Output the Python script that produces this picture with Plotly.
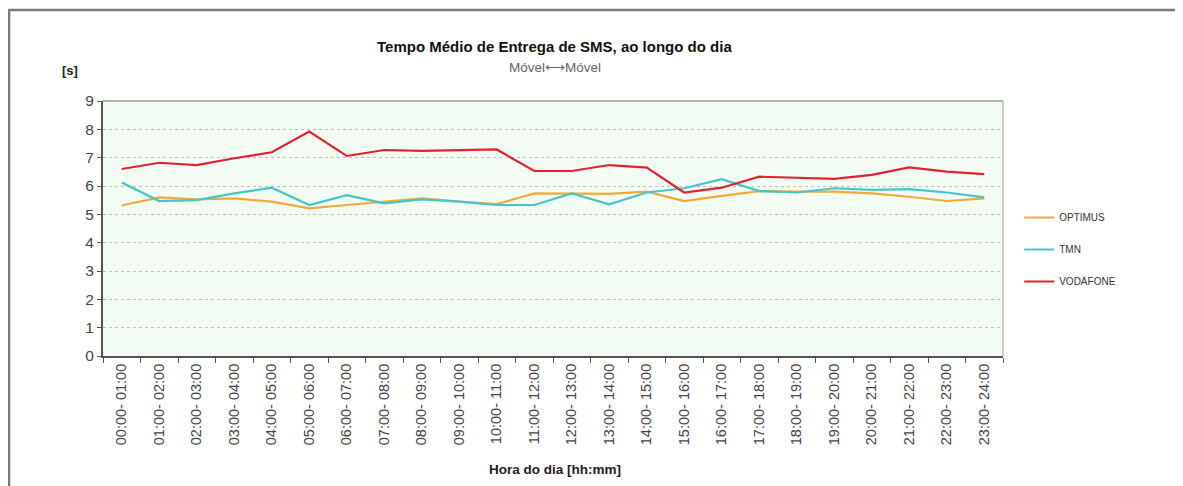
import plotly.graph_objects as go

# hourly intervals
horas = [f"{h:02d}:00- {h + 1:02d}:00" for h in range(24)]

optimus = [5.31, 5.60, 5.53, 5.56, 5.45, 5.21, 5.33, 5.45, 5.56, 5.45, 5.36, 5.74,
           5.72, 5.72, 5.80, 5.47, 5.65, 5.82, 5.80, 5.80, 5.74, 5.62, 5.47, 5.56]
tmn = [6.12, 5.47, 5.50, 5.74, 5.94, 5.33, 5.68, 5.39, 5.53, 5.45, 5.33, 5.33,
       5.74, 5.35, 5.77, 5.92, 6.24, 5.82, 5.77, 5.92, 5.86, 5.89, 5.77, 5.60]
vodafone = [6.60, 6.82, 6.74, 6.98, 7.19, 7.92, 7.06, 7.27, 7.24, 7.27, 7.29, 6.53,
            6.53, 6.74, 6.65, 5.77, 5.94, 6.33, 6.29, 6.25, 6.39, 6.66, 6.51, 6.42]

series = [
    ("OPTIMUS", optimus, "#F2A93B"),
    ("TMN", tmn, "#45C6C9"),
    ("VODAFONE", vodafone, "#E3222F"),
]

FONT = "Liberation Sans, Arial, sans-serif"

fig = go.Figure()
for i, (name, vals, color) in enumerate(series):
    fig.add_trace(go.Scatter(
        x=horas, y=vals, name=name, mode="lines",
        line=dict(color=color, width=2.2),
        legendgroup=f"g{i}",
    ))

# the page body adds an 8px offset, so the figure is 8px smaller
fig.update_layout(
    width=1175, height=478, autosize=False,
    margin=dict(l=95, r=180, t=93, b=130),
    paper_bgcolor="white",
    plot_bgcolor="#F3FCF3",
    font=dict(family=FONT, color="#333333"),
    showlegend=True,
    legend=dict(
        x=1.018, y=0.6, xanchor="left", yanchor="top",
        font=dict(size=10, color="#333333"),
        tracegroupgap=13, itemwidth=30,
        bgcolor="rgba(0,0,0,0)",
    ),
    xaxis=dict(
        type="category",
        tickangle=-90,
        tickfont=dict(size=14.5, color="#444444"),
        ticks="outside", ticklen=5, tickcolor="#555555",
        tickson="boundaries",
        showgrid=False,
        showline=True, linecolor="#555555", linewidth=2,
        range=[-0.5, 23.5],
    ),
    yaxis=dict(
        range=[0, 9], dtick=1,
        tickfont=dict(size=15.5, color="#444444"),
        ticks="outside", ticklen=4, tickcolor="#555555",
        showgrid=True, gridcolor="#BDBDBD", griddash="dot", gridwidth=1,
        zeroline=False,
        showline=True, linecolor="#555555", linewidth=2,
    ),
    shapes=[
        # outer chart frame
        dict(type="rect", xref="paper", yref="paper",
             x0=-0.1044, x1=1.3, y0=-0.8, y1=1.357,
             line=dict(color="#7A7A7A", width=2.5), layer="below"),
        # plot-area frame top/right
        dict(type="line", xref="paper", yref="paper", x0=0, x1=1, y0=1, y1=1,
             line=dict(color="#9A9A9A", width=1.5)),
        dict(type="line", xref="paper", yref="paper", x0=1, x1=1, y0=0, y1=1,
             line=dict(color="#BDBDBD", width=1.5)),
    ],
    annotations=[
        dict(text="<b>Tempo Médio de Entrega de SMS, ao longo do dia</b>",
             xref="paper", yref="paper", x=0.502, y=1.212, yanchor="middle",
             showarrow=False, font=dict(size=15, color="#111111")),
        dict(text="Móvel⟷Móvel", xref="paper", yref="paper", x=0.502, y=1.133,
             yanchor="middle", showarrow=False,
             font=dict(size=13.5, color="#666666")),
        dict(text="<b>[s]</b>", xref="paper", yref="paper", x=-0.0478, y=1.118,
             yanchor="middle", showarrow=False,
             font=dict(size=13, color="#222222")),
        dict(text="<b>Hora do dia [hh:mm]</b>", xref="paper", yref="paper",
             x=0.502, y=-0.447, yanchor="middle", showarrow=False,
             font=dict(size=13.5, color="#222222")),
    ],
)

fig.write_html("out.html")
